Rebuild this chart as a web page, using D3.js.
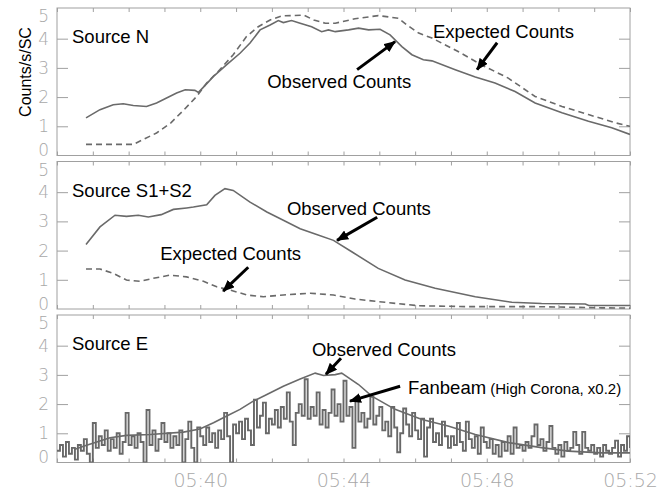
<!DOCTYPE html>
<html>
<head>
<meta charset="utf-8">
<script src="https://cdn.jsdelivr.net/npm/d3@7"></script>
<style>
    body { margin: 0; background: #fff; }
    svg { display: block; }
    .tick-label { font-family: "DejaVu Sans ExtraLight", "DejaVu Sans", sans-serif; font-weight: 200; fill: #a8a8a8; }
    .note { font-family: "Liberation Sans", Arial, sans-serif; fill: #000; }
</style>
</head>
<body>
<svg id="chart" width="670" height="491"></svg>
<script>
// 时间范围 05:36 - 05:52，数据里的时间都是距 05:36 的分钟数
const startTime = new Date(2000, 0, 1, 5, 36);
const endTime = new Date(2000, 0, 1, 5, 52);
const xTickLabels = ["05:40", "05:44", "05:48", "05:52"];
const yTickValues = [0, 1, 2, 3, 4, 5];
const panelNames = ["Source N", "Source S1+S2", "Source E"];

// Source N
const sourceNObserved = [
    [0.81, 1.29], [1.2, 1.57], [1.57, 1.74], [1.85, 1.77], [2.13, 1.71], [2.5, 1.68],
    [2.78, 1.8], [3.06, 1.97], [3.34, 2.14], [3.58, 2.25], [3.85, 2.23], [3.95, 2.16],
    [4.09, 2.34], [4.37, 2.71], [4.74, 3.11], [5.11, 3.5], [5.39, 3.85], [5.67, 4.3],
    [5.95, 4.47], [6.18, 4.62], [6.32, 4.55], [6.55, 4.62], [6.79, 4.53], [7.11, 4.41],
    [7.39, 4.24], [7.58, 4.3], [7.77, 4.24], [8.14, 4.3], [8.42, 4.36], [8.7, 4.3],
    [9.02, 4.32], [9.3, 4.13], [9.63, 3.73], [9.91, 3.45], [10.23, 3.28], [10.47, 3.24],
    [11.12, 2.94], [11.68, 2.69], [12.23, 2.48], [12.79, 2.19], [13.35, 1.8], [14.1, 1.46],
    [14.84, 1.17], [15.49, 0.95], [16, 0.72]
];
const sourceNExpected = [
    [0.81, 0.38], [2.13, 0.38], [2.41, 0.55], [2.78, 0.77], [3.18, 1.12], [3.55, 1.57],
    [3.9, 2.02], [4.18, 2.48], [4.55, 2.94], [4.92, 3.45], [5.29, 4.07], [5.62, 4.41],
    [5.95, 4.64], [6.28, 4.78], [6.61, 4.79], [6.89, 4.81], [7.17, 4.64], [7.49, 4.53],
    [7.77, 4.53], [8.32, 4.68], [8.97, 4.79], [9.53, 4.7], [9.77, 4.47], [10.1, 4.19],
    [10.47, 4.02], [11.2, 3.56], [11.86, 3.1], [12.6, 2.65], [13.35, 2.02], [14.1, 1.68],
    [14.84, 1.4], [15.59, 1.12], [16, 1.0]
];

// Source S1+S2
const sourceSObserved = [
    [0.81, 2.21], [1.2, 2.81], [1.62, 3.21], [1.94, 3.17], [2.27, 3.21], [2.55, 3.15],
    [2.91, 3.23], [3.25, 3.41], [3.62, 3.46], [3.81, 3.49], [4.18, 3.57], [4.41, 3.89],
    [4.69, 4.12], [4.92, 4.06], [5.39, 3.66], [5.86, 3.32], [6.32, 3.04], [6.79, 2.75],
    [7.25, 2.55], [7.72, 2.35], [8.23, 1.96], [8.97, 1.39], [9.72, 0.99], [10.56, 0.71],
    [11.68, 0.42], [12.7, 0.23], [13.53, 0.19], [14.75, 0.17], [14.85, 0.12], [16, 0.12]
];
const sourceSExpected = [
    [0.81, 1.37], [1.2, 1.37], [1.57, 1.22], [1.94, 0.99], [2.32, 0.95], [2.69, 1.05],
    [3.16, 1.16], [3.62, 1.1], [4.09, 0.95], [4.46, 0.76], [4.83, 0.65], [5.3, 0.48],
    [5.76, 0.42], [6.32, 0.48], [7.07, 0.54], [7.72, 0.48], [8.32, 0.34], [9.16, 0.23],
    [10.1, 0.11], [11.5, 0.08], [13.4, 0.08], [15.21, 0.04], [16, 0.03]
];

// Source E
const sourceEObserved = [
    [0.5, 0.45], [0.74, 0.56], [1.48, 0.85], [1.94, 0.93], [2.6, 0.96], [3.53, 1.04],
    [3.99, 1.15], [4.37, 1.36], [4.74, 1.59], [5.11, 1.82], [5.48, 2.1], [5.86, 2.33],
    [6.32, 2.61], [6.79, 2.86], [7.21, 3.06], [7.44, 2.98], [7.77, 3.01], [7.95, 3.06],
    [8.42, 2.67], [8.79, 2.27], [9.44, 1.82], [10.19, 1.47], [10.92, 1.25], [11.68, 0.96],
    [12.61, 0.68], [13.53, 0.51], [14.28, 0.39], [15.21, 0.33], [16, 0.33]
];
// Fanbeam（高日冕，x0.2），每 5 秒一个值
const fanbeamStep = 5;
const fanbeamCounts = [
    0.4, 0.6, 0.2, 0.7, 0.3, 0.5, 0.1, 0.6, 0.4, 0.8, 0.3, 0.0,
    1.35, 0.5, 0.9, 0.6, 1.1, 0.4, 0.8, 0.5, 1.0, 0.3, 0.7, 1.7,
    0.6, 0.9, 0.5, 1.0, 0.7, 0.0, 1.8, 0.6, 1.1, 0.4, 0.8, 1.35,
    0.7, 1.0, 0.5, 0.9, 0.6, 1.1, 0.0, 0.8, 1.4, 0.5, 0.0, 1.2,
    0.9, 0.6, 1.2, 0.7, 1.0, 0.5, 1.1, 0.8, 1.7, 0.9, 0.0, 1.3,
    1.0, 1.4, 0.8, 1.5, 1.1, 0.6, 2.15, 1.2, 1.6, 2.05, 1.0, 1.5,
    1.3, 1.8, 1.2, 1.9, 1.5, 2.4, 1.4, 0.6, 1.7, 2.0, 1.6, 2.85,
    1.5, 1.9, 1.6, 2.4, 1.3, 1.8, 1.2, 1.7, 2.5, 1.6, 2.0, 1.4,
    2.8, 1.6, 1.9, 0.5, 2.15, 1.4, 1.7, 1.2, 1.5, 2.25, 1.3, 1.6,
    1.9, 1.1, 1.4, 0.9, 1.9, 1.2, 0.35, 1.0, 1.85, 1.3, 0.9, 1.7,
    1.1, 0.8, 1.5, 0.2, 1.2, 1.5, 0.7, 1.0, 0.6, 1.4, 0.9, 0.5,
    0.9, 0.6, 1.35, 0.7, 0.4, 1.4, 0.8, 0.5, 0.9, 0.3, 1.2, 0.7,
    0.5, 0.8, 0.3, 0.6, 0.2, 0.7, 0.4, 0.9, 0.3, 1.2, 0.5, 0.6,
    0.4, 0.7, 0.5, 0.9, 1.3, 0.6, 0.8, 0.4, 0.7, 1.25, 0.5, 0.3,
    0.6, 0.2, 0.7, 0.4, 0.5, 1.05, 0.6, 0.3, 1.05, 0.5, 0.4, 0.6,
    0.3, 0.5, 0.2, 0.6, 0.4, 0.3, 0.5, 0.75, 0.2, 0.6, 0.4, 0.9,
    0.5
];

// 标注（坐标为 [分钟, 计数]）
const annotations = [
    { panel: 0, text: "Observed Counts", at: [5.87, 2.32], from: [8.38, 2.94], to: [9.44, 3.9] },
    { panel: 0, text: "Expected Counts", at: [10.5, 4.03], from: [12.29, 3.86], to: [11.73, 2.94] },
    { panel: 1, text: "Observed Counts", at: [6.42, 3.21], from: [8.94, 3.14], to: [7.82, 2.35] },
    { panel: 1, text: "Expected Counts", at: [2.88, 1.67], from: [5.34, 1.43], to: [4.64, 0.61] },
    { panel: 2, text: "Observed Counts", at: [7.12, 3.63], from: [7.93, 3.57], to: [7.51, 3.02] },
    { panel: 2, text: "Fanbeam", small: " (High Corona, x0.2)", at: [9.8, 2.34], from: [9.58, 2.61], to: [8.18, 2.1] }
];

const svg = d3.select("#chart");
const left = 57, right = 630;
const panelTops = [8, 161.5, 315];
const panelHeight = 147.5;
const lineColor = "#6a6a6a";
const axisColor = "#a0a0a0";

const toTime = m => new Date(startTime.getTime() + m * 60000);
const x = d3.scaleTime().domain([startTime, endTime]).range([left, right]);

// 箭头
svg.append("defs").append("marker")
    .attr("id", "head")
    .attr("markerUnits", "userSpaceOnUse")
    .attr("viewBox", "0 0 12 10")
    .attr("refX", 11).attr("refY", 5)
    .attr("markerWidth", 12).attr("markerHeight", 10)
    .attr("orient", "auto")
    .append("path")
    .attr("d", "M0,0L12,5L0,10Z")
    .attr("fill", "#000");

const panels = panelTops.map((top, i) => {
    const y = d3.scaleLinear().domain([0, 5.05]).range([top + panelHeight, top]);
    const g = svg.append("g").attr("class", "panel");

    g.append("clipPath").attr("id", "clip" + i)
        .append("rect")
        .attr("x", left).attr("y", top)
        .attr("width", right - left).attr("height", panelHeight);

    // 上下边的分钟刻度
    g.append("g")
        .attr("transform", `translate(0,${top})`)
        .call(d3.axisBottom(x).ticks(d3.timeMinute.every(1)).tickSize(4).tickFormat(""));
    g.append("g")
        .attr("transform", `translate(0,${top + panelHeight})`)
        .call(d3.axisTop(x).ticks(d3.timeMinute.every(1)).tickSize(4).tickFormat(""));

    // 左右两边的刻度
    g.append("g")
        .attr("transform", `translate(${left},0)`)
        .call(d3.axisRight(y).tickValues([1, 2, 3, 4]).tickSize(11).tickFormat(""));
    g.append("g")
        .attr("transform", `translate(${right},0)`)
        .call(d3.axisLeft(y).tickValues([1, 2, 3, 4]).tickSize(11).tickFormat(""));

    // y 轴数字（0 和 5 往里收一点）
    g.append("g")
        .selectAll("text")
        .data(yTickValues)
        .enter()
        .append("text")
        .attr("class", "tick-label")
        .attr("x", left - 8)
        .attr("y", d => y(d) + (d === 5 ? 6.5 : d === 0 ? -5.5 : 0))
        .attr("dy", "0.36em")
        .attr("text-anchor", "end")
        .attr("font-size", 17)
        .text(d => d);

    g.selectAll(".domain").remove();
    g.selectAll(".tick line").attr("stroke", axisColor);

    g.append("rect")
        .attr("x", left).attr("y", top)
        .attr("width", right - left).attr("height", panelHeight)
        .attr("fill", "none")
        .attr("stroke", axisColor);

    g.append("text")
        .attr("class", "note")
        .attr("x", x(toTime(0.42)))
        .attr("y", y(3.85))
        .attr("font-size", 18.5)
        .text(panelNames[i]);

    return { g, y };
});

function drawSeries(p, data, dashed) {
    const line = d3.line()
        .x(d => x(toTime(d[0])))
        .y(d => panels[p].y(d[1]));
    panels[p].g.append("path")
        .datum(data)
        .attr("clip-path", `url(#clip${p})`)
        .attr("d", line)
        .attr("fill", "none")
        .attr("stroke", lineColor)
        .attr("stroke-width", 1.6)
        .attr("stroke-dasharray", dashed ? "6,4" : null);
}

drawSeries(0, sourceNExpected, true);
drawSeries(0, sourceNObserved, false);
drawSeries(1, sourceSExpected, true);
drawSeries(1, sourceSObserved, false);

// fanbeam 阶梯线
const fanLine = d3.line()
    .curve(d3.curveStepAfter)
    .x((d, i) => x(toTime(i * fanbeamStep / 60)))
    .y(d => panels[2].y(d));
panels[2].g.append("path")
    .datum(fanbeamCounts)
    .attr("clip-path", "url(#clip2)")
    .attr("d", fanLine)
    .attr("fill", "none")
    .attr("stroke", "#686868")
    .attr("stroke-width", 1.9);
drawSeries(2, sourceEObserved, false);

// x 轴时间
const parseHM = d3.timeParse("%H:%M");
const xTicks = xTickLabels.map(s => {
    const d = parseHM(s);
    return new Date(2000, 0, 1, d.getHours(), d.getMinutes());
});
svg.append("g")
    .attr("transform", `translate(0,${panelTops[2] + panelHeight})`)
    .call(d3.axisBottom(x)
        .tickValues(xTicks)
        .tickSize(0)
        .tickPadding(11)
        .tickFormat(d3.timeFormat("%H:%M")))
    .call(g => g.select(".domain").remove())
    .selectAll("text")
    .attr("class", "tick-label")
    .attr("font-size", 19);

// y 轴标题
svg.append("text")
    .attr("class", "note")
    .attr("transform", "translate(31,72) rotate(-90)")
    .attr("text-anchor", "middle")
    .attr("font-size", 16)
    .text("Counts/s/SC");

// 文字和箭头
annotations.forEach(a => {
    const y = panels[a.panel].y;
    const t = svg.append("text")
        .attr("class", "note")
        .attr("x", x(toTime(a.at[0])))
        .attr("y", y(a.at[1]))
        .attr("font-size", 18.5)
        .text(a.text);
    if (a.small) t.append("tspan").attr("font-size", 15).text(a.small);

    svg.append("line")
        .attr("x1", x(toTime(a.from[0]))).attr("y1", y(a.from[1]))
        .attr("x2", x(toTime(a.to[0]))).attr("y2", y(a.to[1]))
        .attr("stroke", "#000")
        .attr("stroke-width", 3)
        .attr("marker-end", "url(#head)");
});
</script>
</body>
</html>
